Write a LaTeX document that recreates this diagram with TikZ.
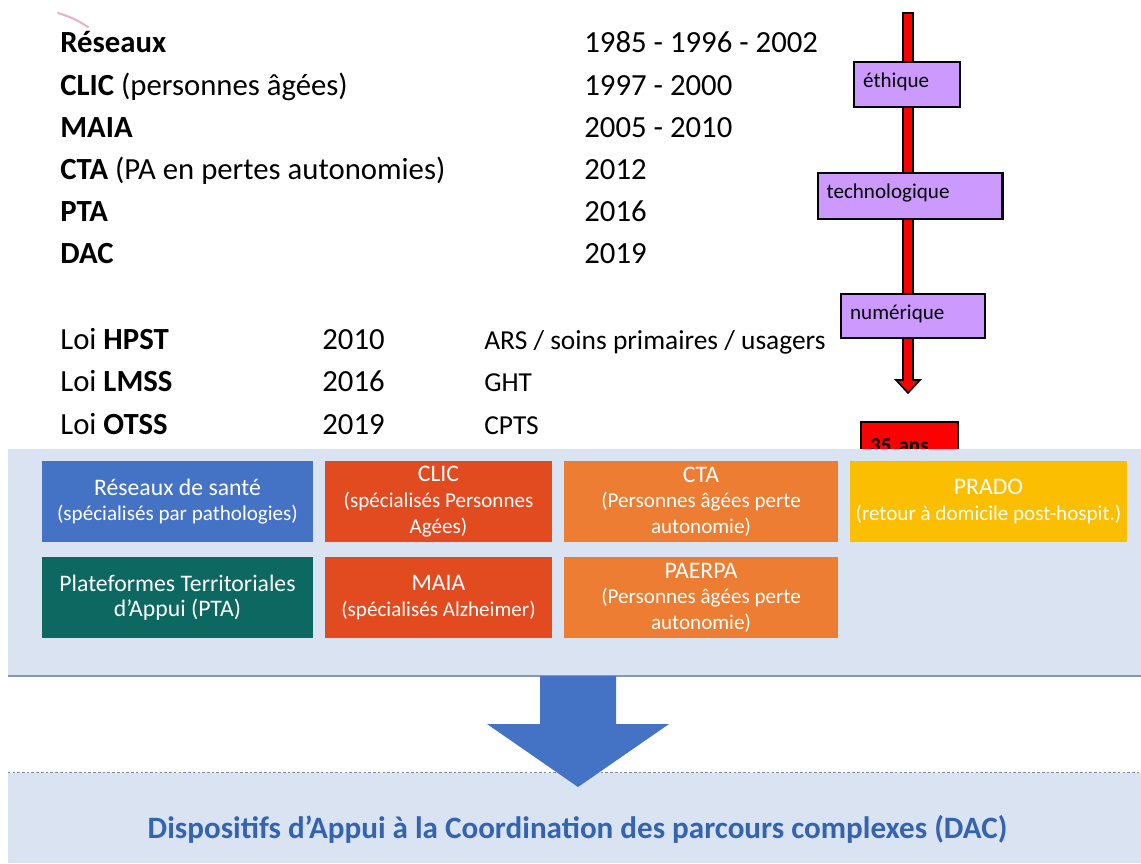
\documentclass[tikz,border=0pt]{standalone}
\usepackage{fontspec}
\setmainfont{Carlito}
\usetikzlibrary{calc}

\definecolor{resblue}{RGB}{68,114,196}
\definecolor{clicred}{RGB}{226,75,32}
\definecolor{ctaorange}{RGB}{236,125,50}
\definecolor{pradoyellow}{RGB}{252,190,0}
\definecolor{ptateal}{RGB}{12,104,96}
\definecolor{panelbg}{RGB}{218,227,242}
\definecolor{panelline}{RGB}{132,151,180}
\definecolor{lilac}{RGB}{204,153,255}
\definecolor{dacblue}{RGB}{52,99,176}
\definecolor{pinkmark}{RGB}{232,180,195}

\newcommand{\boxtitle}[1]{{\fontsize{13.5}{16}\selectfont #1}}

\begin{document}
\begin{tikzpicture}[
    x=0.02cm, y=-0.02cm,
    row/.style={anchor=base west,inner sep=0pt,font=\fontsize{17.5}{21}\selectfont},
    lawtxt/.style={anchor=base west,inner sep=0pt,font=\fontsize{15.6}{18}\selectfont},
    tagbox/.style={draw=black,line width=1.3pt,fill=lilac,anchor=north west,inner xsep=0.18cm,inner ysep=0pt,text height=0.5cm,align=left,font=\fontsize{12}{14}\selectfont},
    colbox/.style={minimum height=1.62cm,inner sep=0pt,align=center,text=white,font=\fontsize{12}{14.6}\selectfont},
    panel/.style={fill=panelbg,minimum width=22.66cm,inner sep=0pt},
    timeline/.style={fill=red,draw=black,line width=0.9pt},
    bigarrow/.style={fill=resblue},
]

\useasboundingbox (0,0) rectangle (1141,863);

% Mark
\coordinate (MK1) at (58,13);
\coordinate (MK2) at (88,27);
\draw[pinkmark,line width=1.2pt,line cap=round] (MK1) to[bend left=8] (MK2);

% Dispositifs
\node[row] (RES)  at (60,52)  {\textbf{Réseaux}};
\node[row] (CLIC) at (60,95)  {\textbf{CLIC} (personnes âgées)};
\node[row] (MAIA) at (60,137) {\textbf{MAIA}};
\node[row] (CTA)  at (60,179) {\textbf{CTA} (PA en pertes autonomies)};
\node[row] (PTA)  at (60,221) {\textbf{PTA}};
\node[row] (DAC)  at (60,263) {\textbf{DAC}};

\node[row] (Y_RES)  at (584,52)  {1985 - 1996 - 2002};
\node[row] (Y_CLIC) at (584,95)  {1997 - 2000};
\node[row] (Y_MAIA) at (584,137) {2005 - 2010};
\node[row] (Y_CTA)  at (584,179) {2012};
\node[row] (Y_PTA)  at (584,221) {2016};
\node[row] (Y_DAC)  at (584,263) {2019};

% Lois
\node[row] (HPST) at (60,349) {Loi \textbf{HPST}};
\node[row] (LMSS) at (60,391) {Loi \textbf{LMSS}};
\node[row] (OTSS) at (60,434) {Loi \textbf{OTSS}};

\node[row] (Y_HPST) at (322,349) {2010};
\node[row] (Y_LMSS) at (322,391) {2016};
\node[row] (Y_OTSS) at (322,434) {2019};

\node[lawtxt] (ARS)  at (484,349) {ARS / soins primaires / usagers};
\node[lawtxt] (GHT)  at (484,391) {GHT};
\node[lawtxt] (CPTS) at (484,434) {CPTS};

% Timeline
\coordinate (T_top) at (908,13);
\coordinate (T_tip) at (908,393);
\draw[timeline] ($(T_top)+(-5,0)$) -- ($(T_tip)+(-5,-13)$) -- ($(T_tip)+(-12,-13)$)
    -- (T_tip) -- ($(T_tip)+(12,-13)$) -- ($(T_tip)+(5,-13)$) -- ($(T_top)+(5,0)$) -- cycle;

\node[tagbox,text width=1.76cm,text depth=0.4cm] (ETH) at (853,61) {éthique};
\node[tagbox,text width=3.34cm,text depth=0.42cm] (TECH) at (816.5,172) {technologique};
\node[tagbox,text width=2.52cm,text depth=0.38cm] (NUM) at (840,293) {numérique};
\node[tagbox,fill=red,font=\bfseries\fontsize{12}{14}\selectfont,text width=1.58cm,text height=0.6cm,text depth=0.3cm] (ANS) at (860,421) {35 ans};

% Panel
\node[panel,minimum height=4.55cm] (PANEL) at (574.5,562.25) {};
\draw[panelline,line width=1.1pt] (PANEL.south west) -- (PANEL.south east);

\node[colbox,fill=resblue,minimum width=5.42cm] (B_RES) at (177.5,501.5)
    {\boxtitle{Réseaux de santé}\\(spécialisés par pathologies)};
\node[colbox,fill=clicred,minimum width=4.54cm] (B_CLIC) at (438.5,501.5)
    {\boxtitle{CLIC}\\(spécialisés Personnes\\Agées)};
\node[colbox,fill=ctaorange,minimum width=5.48cm] (B_CTA) at (701,501.5)
    {\boxtitle{CTA}\\(Personnes âgées perte\\autonomie)};
\node[colbox,fill=pradoyellow,minimum width=5.54cm] (B_PRADO) at (988.5,501.5)
    {\boxtitle{PRADO}\\(retour à domicile post-hospit.)};

\node[colbox,fill=ptateal,minimum width=5.42cm] (B_PTA) at (177.5,597.5)
    {\boxtitle{Plateformes Territoriales}\\\boxtitle{d’Appui (PTA)}};
\node[colbox,fill=clicred,minimum width=4.54cm] (B_MAIA) at (438.5,597.5)
    {\boxtitle{MAIA}\\(spécialisés Alzheimer)};
\node[colbox,fill=ctaorange,minimum width=5.48cm] (B_PAERPA) at (701,597.5)
    {\boxtitle{PAERPA}\\(Personnes âgées perte\\autonomie)};

% DAC
\node[panel,minimum height=1.8cm] (BPANEL) at (574.5,818) {};
\draw[panelline!90!black,line width=0.8pt,dash pattern=on 1.5pt off 1.2pt] (BPANEL.north west) -- (BPANEL.north east);

\coordinate (ARR_top) at (578,676);
\coordinate (ARR_tip) at (578,787);
\fill[bigarrow] ($(ARR_top)+(-38,0)$) -- ($(ARR_tip)+(-38,-63)$) -- ($(ARR_tip)+(-91,-63)$)
    -- (ARR_tip) -- ($(ARR_tip)+(91,-63)$) -- ($(ARR_tip)+(38,-63)$) -- ($(ARR_top)+(38,0)$) -- cycle;

\node[anchor=base,inner sep=0pt,text=dacblue,font=\bfseries\fontsize{17.7}{21}\selectfont] (DAC_TXT) at (577.5,838)
    {Dispositifs d’Appui à la Coordination des parcours complexes (DAC)};

\end{tikzpicture}
\end{document}
